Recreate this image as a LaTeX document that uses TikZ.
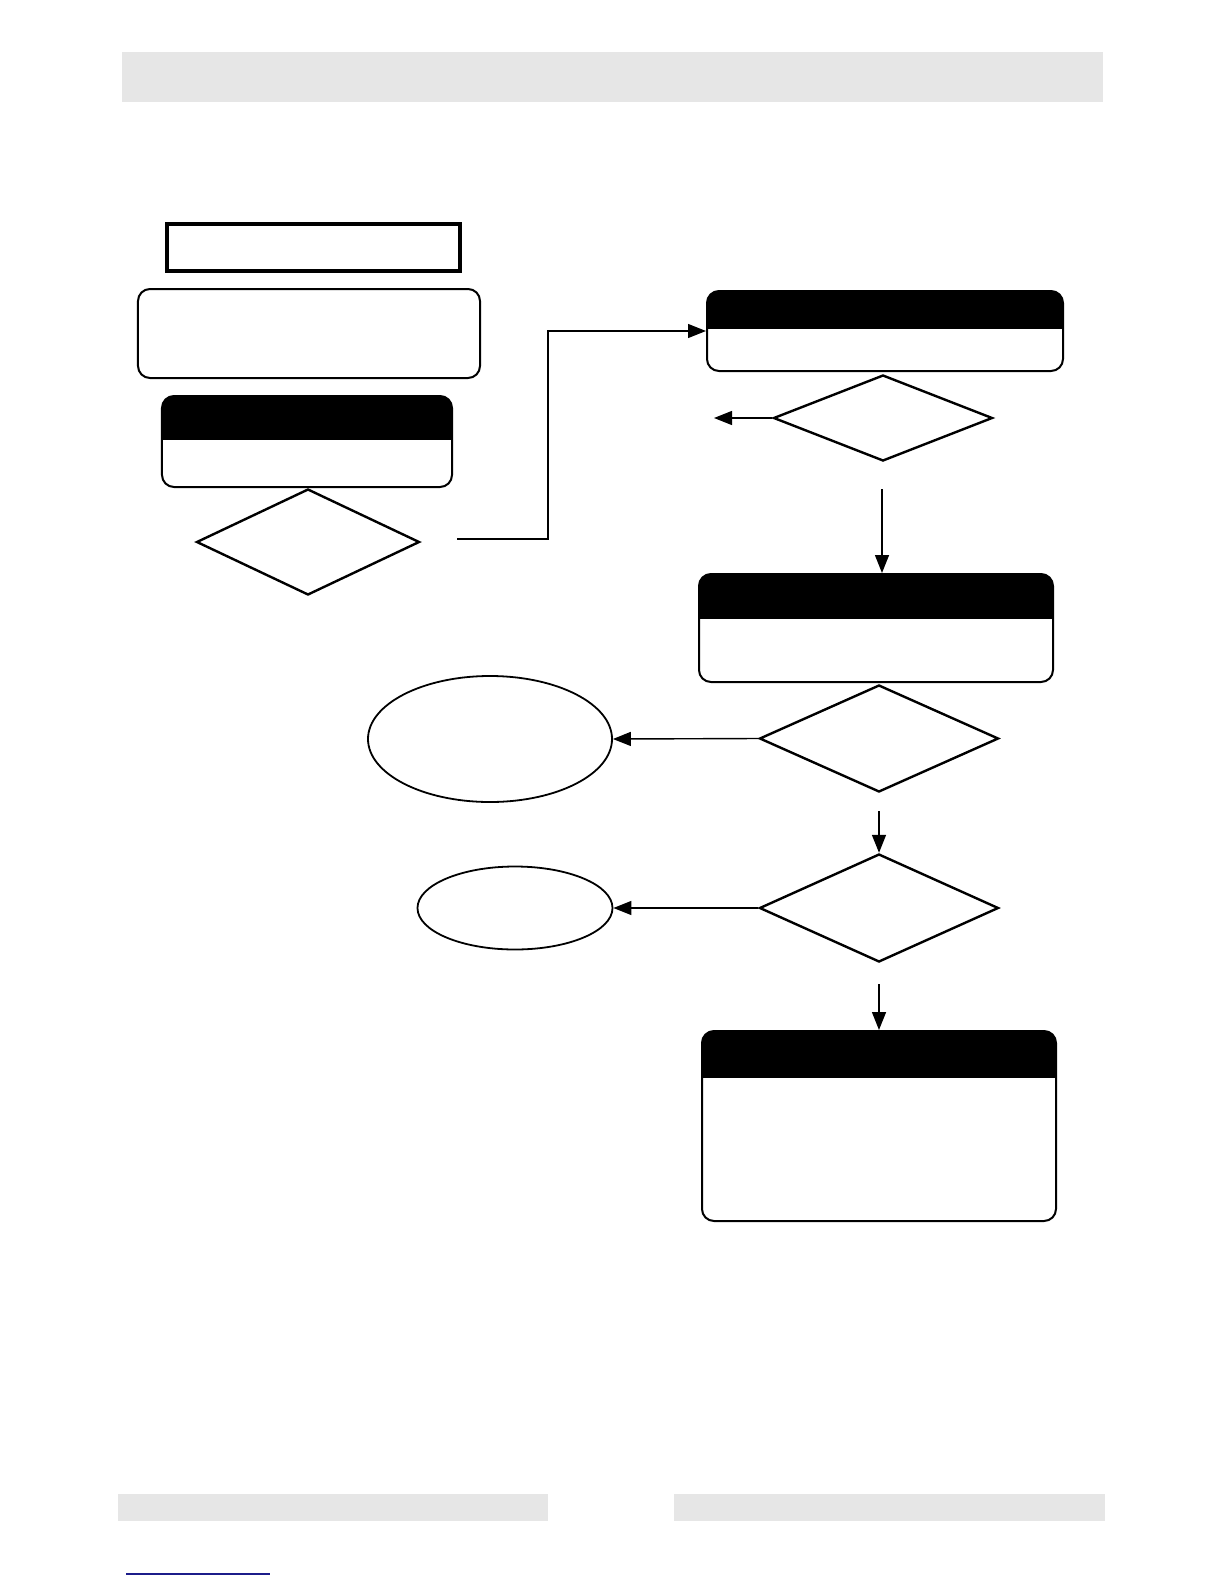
\documentclass[tikz,border=0pt]{standalone}
\usepackage{tikz}
\usetikzlibrary{arrows.meta,calc,positioning,shapes.geometric}
\definecolor{bargray}{HTML}{E6E6E6}
\definecolor{linkblue}{HTML}{1C1C8A}
\tikzset{box/.style={draw,rounded corners=6bp,line width=1bp,inner sep=0pt},
  hdbox/.style={box,path picture={\fill[sharp corners] (path picture bounding box.north west) rectangle ([yshift=-#1]path picture bounding box.north east);}},
  dia/.style={draw,diamond,line width=1.2bp,inner sep=0pt},
  oval/.style={draw,ellipse,line width=0.9bp,inner sep=0pt},
  arr/.style={-{Triangle[length=9bp,width=7bp]},line width=0.7bp},
  bar/.style={fill=bargray}}

\begin{document}
\begin{tikzpicture}[x=0.5bp,y=-0.5bp]
\useasboundingbox (0,0) rectangle (1224,1584);
% page bars
\fill[bar] (122,52) rectangle (1103,102);
\fill[bar] (118,1494) rectangle (548,1521);
\fill[bar] (674,1494) rectangle (1105,1521);
\draw[linkblue,line width=0.8bp] (126,1574)--(270,1574);
% left column
\node[draw,line width=2bp,minimum width=146.5bp,minimum height=23.5bp] (title) at (313.5,247.5){};
\node[box,minimum width=171bp,minimum height=44.5bp] (note) at (309,333.5){};
\node[hdbox=22bp,minimum width=145bp,minimum height=45.5bp] (hd1) at (307,441.5){};
\node[dia,minimum width=111.5bp,minimum height=53bp] (q1) at (308,542){};
% right column
\node[hdbox=19bp,minimum width=178bp,minimum height=40bp] (hd2) at (885,331){};
\node[dia,minimum width=109.5bp,minimum height=43bp] (q2) at (883,418){};
\node[hdbox=22.5bp,minimum width=177bp,minimum height=54bp] (hd3) at (876,628){};
\node[dia,minimum width=119.5bp,minimum height=53.5bp] (q3) at (879,738.5){};
\node[dia,minimum width=119.5bp,minimum height=54bp] (q4) at (879,908){};
\node[hdbox=23.5bp,minimum width=177bp,minimum height=95bp] (hd4) at (879,1126){};
\node[oval,minimum width=122bp,minimum height=63bp] (e1) at (490,739){};
\node[oval,minimum width=97.5bp,minimum height=41.5bp] (e2) at (515,908){};
% connectors
\coordinate (s1) at (457,539); \coordinate (c1) at (548,539);
\coordinate (o2) at (714,418);
\coordinate (s2) at (882,489); \coordinate (s3) at (879,811); \coordinate (s4) at (879,984);
\draw[arr] (s1)--(c1)|-(hd2.west);
\draw[arr] (q2.west)--(o2);
\draw[arr] (s2)--(s2|-hd3.north);
\draw[arr] (q3.west)--(e1.east);
\draw[arr] (s3)--(q4.north);
\draw[arr] (q4.west)--(e2.east);
\draw[arr] (s4)--(hd4.north);
\end{tikzpicture}
\end{document}
